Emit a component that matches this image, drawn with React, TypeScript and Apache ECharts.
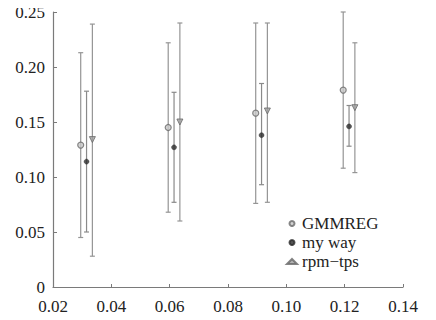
import React, { useEffect, useRef } from "react";
import * as echarts from "echarts";

const seriesNames = ["GMMREG", "my way", "rpm-tps"];
const legendLabels = ["GMMREG", "my way", "rpm\u2212tps"];

const xGMMREG = [0.0295, 0.0595, 0.0895, 0.1195];
const xMyWay = [0.0315, 0.0615, 0.0915, 0.1215];
const xRpm = [0.0335, 0.0635, 0.0935, 0.1235];

const meanGMMREG = [0.129, 0.145, 0.158, 0.179];
const lowGMMREG = [0.045, 0.068, 0.076, 0.108];
const highGMMREG = [0.213, 0.222, 0.24, 0.25];

const meanMyWay = [0.114, 0.127, 0.138, 0.146];
const lowMyWay = [0.05, 0.077, 0.093, 0.128];
const highMyWay = [0.178, 0.177, 0.185, 0.165];

const meanRpm = [0.134, 0.15, 0.16, 0.163];
const lowRpm = [0.028, 0.06, 0.077, 0.104];
const highRpm = [0.239, 0.24, 0.24, 0.222];

const xTicks = { min: 0.02, max: 0.14, interval: 0.02 };
const yTicks = { min: 0, max: 0.25, interval: 0.05 };

const FONT = "Liberation Serif";

function errorSeries(xs: number[], lows: number[], highs: number[], color: string) {
  return {
    type: "custom",
    silent: true,
    data: xs.map((x, i) => [x, lows[i], highs[i]]),
    renderItem: (params: any, api: any) => {
      const x = api.value(0);
      const lo = api.coord([x, api.value(1)]);
      const hi = api.coord([x, api.value(2)]);
      const w = 2.5;
      const style = { stroke: color, lineWidth: 1.2 };
      return {
        type: "group",
        children: [
          { type: "line", shape: { x1: lo[0], y1: lo[1], x2: hi[0], y2: hi[1] }, style },
          { type: "line", shape: { x1: hi[0] - w, y1: hi[1], x2: hi[0] + w, y2: hi[1] }, style },
          { type: "line", shape: { x1: lo[0] - w, y1: lo[1], x2: lo[0] + w, y2: lo[1] }, style },
        ],
      };
    },
    z: 1,
  };
}

export default function App() {
  const ref = useRef<HTMLDivElement>(null);
  useEffect(() => {
    if (!ref.current) return;
    const chart = echarts.init(ref.current, undefined, { renderer: "svg" });
    const axisColor = "#7a7a7a";
    chart.setOption({
      animation: false,
      backgroundColor: "#ffffff",
      textStyle: { fontFamily: FONT },
      grid: { left: 53, right: 33, top: 12, bottom: 33 },
      xAxis: {
        type: "value",
        min: xTicks.min,
        max: xTicks.max,
        interval: xTicks.interval,
        splitLine: { show: false },
        axisLine: { show: true, onZero: false, lineStyle: { color: axisColor, width: 1.2 } },
        axisTick: { show: true, inside: true, length: 3, lineStyle: { color: axisColor } },
        axisLabel: {
          color: "#222",
          fontFamily: FONT,
          fontSize: 17,
          margin: 11,
          formatter: (v: number) => v.toFixed(2),
        },
      },
      yAxis: {
        type: "value",
        min: yTicks.min,
        max: yTicks.max,
        interval: yTicks.interval,
        splitLine: { show: false },
        axisLine: { show: true, lineStyle: { color: axisColor, width: 1.2 } },
        axisTick: { show: true, inside: true, length: 4, lineStyle: { color: axisColor } },
        axisLabel: {
          color: "#222",
          fontFamily: FONT,
          fontSize: 17,
          margin: 8,
          formatter: (v: number) => (v === 0 ? "0" : v.toFixed(2)),
        },
      },
      legend: {
        orient: "vertical",
        left: 281,
        top: 210,
        itemWidth: 10,
        itemHeight: 5,
        itemGap: 2,
        data: seriesNames,
        formatter: (name: string) => legendLabels[seriesNames.indexOf(name)],
        textStyle: { color: "#222", fontFamily: FONT, fontSize: 17 },
      },
      series: [
        errorSeries(xGMMREG, lowGMMREG, highGMMREG, "#959595"),
        errorSeries(xMyWay, lowMyWay, highMyWay, "#8a8a8a"),
        errorSeries(xRpm, lowRpm, highRpm, "#959595"),
        {
          name: seriesNames[0],
          type: "scatter",
          symbol: "circle",
          symbolSize: 6,
          data: xGMMREG.map((x, i) => [x, meanGMMREG[i]]),
          itemStyle: { color: "#c8c8c8", borderColor: "#6a6a6a", borderWidth: 1.2 },
          z: 3,
        },
        {
          name: seriesNames[1],
          type: "scatter",
          symbol: "circle",
          symbolSize: 5,
          data: xMyWay.map((x, i) => [x, meanMyWay[i]]),
          itemStyle: { color: "#2a2a2a", borderColor: "#2a2a2a", borderWidth: 0.5 },
          z: 3,
        },
        {
          name: seriesNames[2],
          type: "scatter",
          symbol: "triangle",
          symbolRotate: 180,
          symbolSize: 6,
          data: xRpm.map((x, i) => [x, meanRpm[i]]),
          itemStyle: { color: "#a0a0a0", borderColor: "#666", borderWidth: 1 },
          z: 3,
        },
      ],
    });
    return () => chart.dispose();
  }, []);
  return <div ref={ref} style={{ width: 436, height: 320, margin: -8 }} />;
}
